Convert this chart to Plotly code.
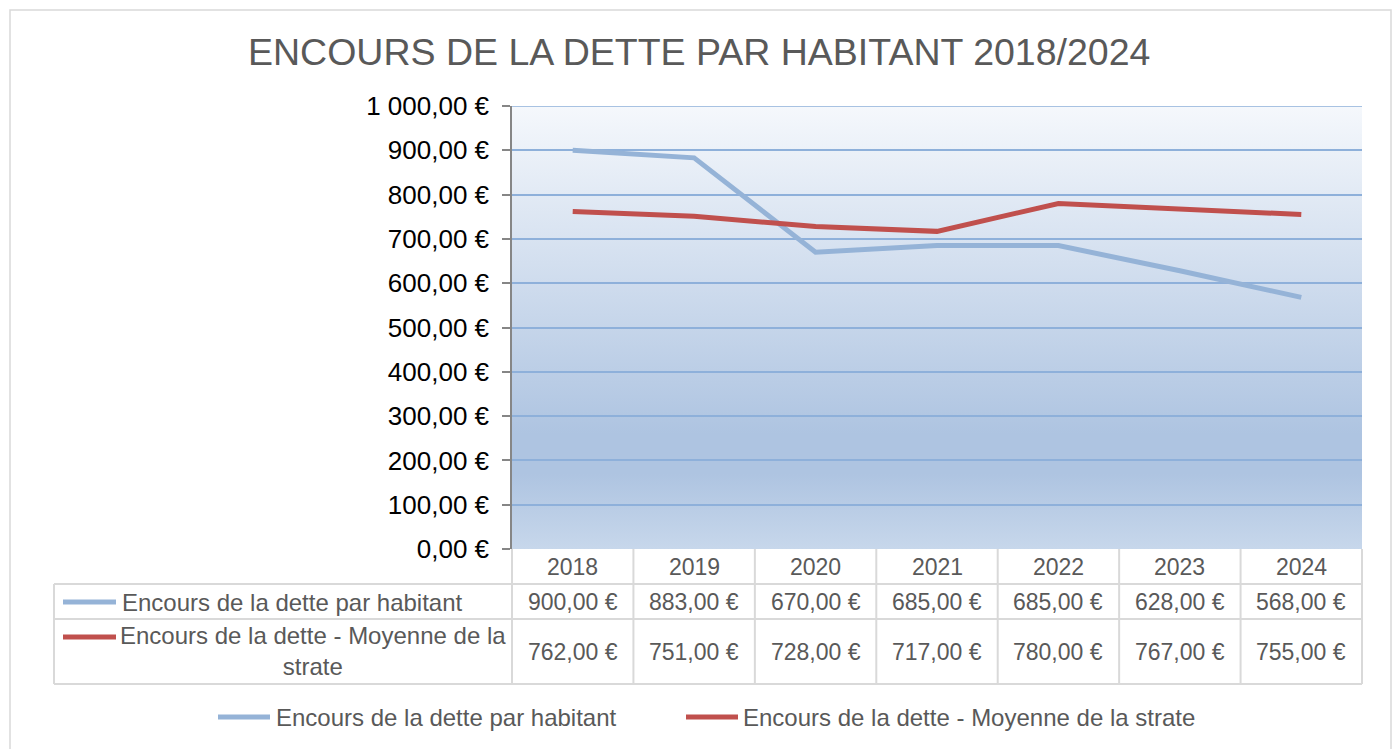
import base64
import plotly.graph_objects as go

# ---- data ----
years = ["2018", "2019", "2020", "2021", "2022", "2023", "2024"]
dette_habitant = [900, 883, 670, 685, 685, 628, 568]
dette_strate = [762, 751, 728, 717, 780, 767, 755]
series_names = ["Encours de la dette par habitant",
                "Encours de la dette - Moyenne de la strate"]
table_labels = ["Encours de la dette par habitant",
                "Encours de la dette - Moyenne de la<br>strate"]
y_ticks = [0, 100, 200, 300, 400, 500, 600, 700, 800, 900, 1000]
title_text = "ENCOURS DE LA DETTE PAR HABITANT 2018/2024"

BLUE = "#95B3D7"
RED = "#C0504D"
GREY_TXT = "#595959"
BORDER = "#D9D9D9"
FONT = "Liberation Sans, Arial, sans-serif"


def eur(v):
    s = f"{v:,.2f}"
    s = s.replace(",", " ").replace(".", ",")
    return s + " €"


W, H = 1396, 749
L, R, T, B = 512, 1362, 106, 549


def px(x):
    return (x - L) / (R - L)


def py(y):
    return (B - y) / (B - T)


fig = go.Figure()
fig.add_trace(go.Scatter(x=years, y=dette_habitant, mode="lines", name=series_names[0],
                         line=dict(color=BLUE, width=5), showlegend=False))
fig.add_trace(go.Scatter(x=years, y=dette_strate, mode="lines", name=series_names[1],
                         line=dict(color=RED, width=5), showlegend=False))

# gradient background via svg image
svg = ('<svg xmlns="http://www.w3.org/2000/svg" width="100" height="100" preserveAspectRatio="none">'
       '<defs><linearGradient id="g" x1="0" y1="0" x2="0" y2="1">'
       '<stop offset="0" stop-color="#F5F8FC"/>'
       '<stop offset="0.74" stop-color="#AEC4E1"/>'
       '<stop offset="0.83" stop-color="#AEC4E1"/>'
       '<stop offset="1" stop-color="#C7D7EB"/>'
       '</linearGradient></defs><rect width="100" height="100" fill="url(#g)"/></svg>')
src = "data:image/svg+xml;base64," + base64.b64encode(svg.encode()).decode()

shapes = []
annotations = []

# outer chart border
shapes.append(dict(type="rect", xref="paper", yref="paper",
                   x0=px(10), x1=px(1391), y0=py(10), y1=py(760),
                   line=dict(color=BORDER, width=1.5), fillcolor="rgba(0,0,0,0)", layer="below"))

# top gridline (at axis max)
shapes.append(dict(type="line", xref="paper", yref="y", x0=0, x1=1, y0=y_ticks[-1], y1=y_ticks[-1],
                   line=dict(color="#8EB0DA", width=1.5), layer="above"))

# table grid
n = len(years)
row_lines = [584, 619, 684]
for yy in row_lines:
    shapes.append(dict(type="line", xref="paper", yref="paper", x0=px(54), x1=1,
                       y0=py(yy), y1=py(yy), line=dict(color=BORDER, width=2)))
for i in range(n + 1):
    shapes.append(dict(type="line", xref="paper", yref="paper", x0=i / n, x1=i / n,
                       y0=0, y1=py(684), line=dict(color=BORDER, width=2)))
shapes.append(dict(type="line", xref="paper", yref="paper", x0=px(54), x1=px(54),
                   y0=py(584), y1=py(684), line=dict(color=BORDER, width=2)))

# header years + values
cell_font = dict(size=23, color=GREY_TXT, family=FONT)
for i, yr in enumerate(years):
    annotations.append(dict(x=i, xref="x", y=py(567), yref="paper", text=yr, showarrow=False,
                            xanchor="center", yanchor="middle", font=cell_font))
    annotations.append(dict(x=i, xref="x", y=py(602), yref="paper", text=eur(dette_habitant[i]),
                            showarrow=False, xanchor="center", yanchor="middle", font=cell_font))
    annotations.append(dict(x=i, xref="x", y=py(652), yref="paper", text=eur(dette_strate[i]),
                            showarrow=False, xanchor="center", yanchor="middle", font=cell_font))

label_font = dict(size=24, color=GREY_TXT, family=FONT)
# table row labels with keys
shapes.append(dict(type="line", xref="paper", yref="paper", x0=px(63), x1=px(116),
                   y0=py(602), y1=py(602), line=dict(color=BLUE, width=5)))
annotations.append(dict(x=px(120), xref="paper", y=py(602), yref="paper", text=table_labels[0],
                        showarrow=False, xanchor="left", yanchor="middle", font=label_font))
shapes.append(dict(type="line", xref="paper", yref="paper", x0=px(63), x1=px(116),
                   y0=py(637), y1=py(637), line=dict(color=RED, width=5)))
annotations.append(dict(x=px(313), xref="paper", y=py(651), yref="paper", text=table_labels[1],
                        showarrow=False, xanchor="center", yanchor="middle", align="center",
                        font=label_font))

# bottom legend
shapes.append(dict(type="line", xref="paper", yref="paper", x0=px(218), x1=px(270),
                   y0=py(717), y1=py(717), line=dict(color=BLUE, width=5)))
annotations.append(dict(x=px(274), xref="paper", y=py(717), yref="paper", text=series_names[0],
                        showarrow=False, xanchor="left", yanchor="middle", font=label_font))
shapes.append(dict(type="line", xref="paper", yref="paper", x0=px(686), x1=px(738),
                   y0=py(717), y1=py(717), line=dict(color=RED, width=5)))
annotations.append(dict(x=px(741), xref="paper", y=py(717), yref="paper", text=series_names[1],
                        showarrow=False, xanchor="left", yanchor="middle", font=label_font))

# title
annotations.append(dict(x=px(699), xref="paper", y=py(52), yref="paper", text=title_text,
                        showarrow=False, xanchor="center", yanchor="middle",
                        font=dict(size=37.5, color=GREY_TXT, family=FONT)))

fig.update_layout(
    width=W, height=H, autosize=False,
    margin=dict(l=L, r=W - R, t=T, b=H - B, pad=0),
    paper_bgcolor="white", plot_bgcolor="white",
    showlegend=False,
    shapes=shapes, annotations=annotations,
    images=[dict(source=src, xref="paper", yref="paper", x=0, y=1, sizex=1, sizey=1,
                 xanchor="left", yanchor="top", sizing="stretch", layer="below")],
    xaxis=dict(type="category", range=[-0.5, n - 0.5], showticklabels=False, showgrid=False,
               zeroline=False, showline=False, ticks=""),
    yaxis=dict(range=[0, 1000], tickvals=y_ticks, ticktext=[eur(v) for v in y_ticks],
               showgrid=True, gridcolor="#8EB0DA", gridwidth=1.5, zeroline=False,
               showline=True, linecolor="#868686", linewidth=1.5,
               ticks="outside", ticklen=8, tickcolor="#868686", tickwidth=1.5,
               tickfont=dict(size=26, color="black", family=FONT), ticklabelstandoff=8),
)

fig.write_html("out.html", config={"displayModeBar": False},
               post_script="document.body.style.margin='0px';")
